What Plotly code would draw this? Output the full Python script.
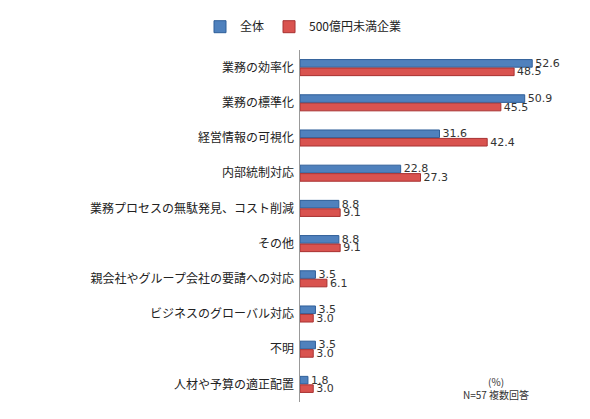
import plotly.graph_objects as go

categories = ["業務の効率化", "業務の標準化", "経営情報の可視化", "内部統制対応",
              "業務プロセスの無駄発見、コスト削減", "その他", "親会社やグループ会社の要請への対応",
              "ビジネスのグローバル対応", "不明", "人材や予算の適正配置"]
all_vals = [52.6, 50.9, 31.6, 22.8, 8.8, 8.8, 3.5, 3.5, 3.5, 1.8]
small_vals = [48.5, 45.5, 42.4, 27.3, 9.1, 9.1, 6.1, 3.0, 3.0, 3.0]
series_names = ["全体", "500億円未満企業"]

font = "Noto Sans CJK JP"
fig = go.Figure()
for name, vals, col, edge in [(series_names[0], all_vals, "#4f81bd", "#2f5f99"),
                              (series_names[1], small_vals, "#d9534f", "#a83232")]:
    fig.add_trace(go.Bar(
        y=categories, x=vals, name=name, orientation="h",
        marker=dict(color=col, line=dict(color=edge, width=1)),
        text=[f"{v:.1f}" for v in vals], textposition="outside", constraintext="none",
        textfont=dict(size=11, color="#333", family="DejaVu Sans"), cliponaxis=False))

fig.update_layout(
    width=590, height=419, barmode="group", bargap=0.52, bargroupgap=0.1,
    margin=dict(l=292, r=0, t=42, b=25),
    paper_bgcolor="white", plot_bgcolor="white",
    font=dict(family=font, size=12, color="#222"),
    legend=dict(orientation="h", x=0.5, xanchor="center", xref="container",
                y=0.99, yanchor="top", yref="container",
                font=dict(size=12), traceorder="normal"),
    xaxis=dict(range=[0, 67.5], showgrid=False, showticklabels=False, zeroline=False, fixedrange=True),
    yaxis=dict(autorange="reversed", showline=True, linecolor="#999", linewidth=1,
               ticks="", ticksuffix=" ", tickfont=dict(size=12)),
    annotations=[dict(text="(%)<br>N=57 複数回答", xref="paper", yref="paper",
                      x=(490 - 297) / 293, y=0.04, yanchor="middle",
                      showarrow=False, font=dict(size=10, color="#333"))],
)
fig.write_html("out.html")
